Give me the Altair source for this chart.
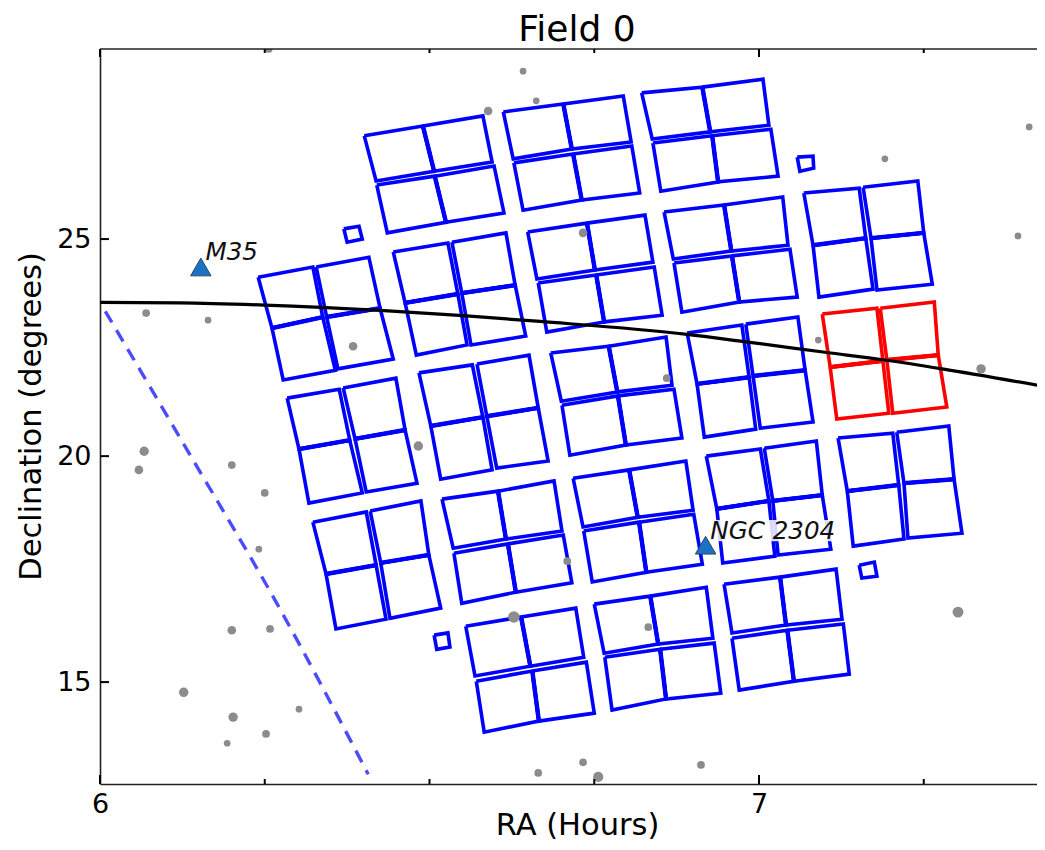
import altair as alt
import pandas as pd

# Each module: "H" = 3 columns x 4 rows of corners, "V" = 4 columns x 3 rows.
m01_ra = [6.401,6.490,6.581, 6.419,6.507,6.595, 6.420,6.508,6.598, 6.436,6.525,6.613]
m01_dec = [27.33,27.55,27.78, 26.31,26.53,26.74, 26.22,26.42,26.65, 25.14,25.38,25.59]
m02_ra = [6.240,6.323,6.328,6.408, 6.261,6.338,6.344,6.425, 6.278,6.357,6.361,6.445]
m02_dec = [24.14,24.37,24.37,24.59, 22.99,23.24,23.24,23.44, 21.82,22.04,22.07,22.29]
m03_ra = [6.445,6.528,6.534,6.616, 6.463,6.543,6.549,6.630, 6.480,6.557,6.563,6.646]
m03_dec = [24.71,24.91,24.93,25.14, 23.56,23.76,23.78,23.96, 22.38,22.61,22.61,22.81]
m04_ra = [6.612,6.703,6.794, 6.627,6.716,6.806, 6.628,6.718,6.807, 6.642,6.731,6.819]
m04_dec = [27.87,28.05,28.23, 26.81,27.03,27.19, 26.72,26.92,27.10, 25.65,25.88,26.04]
m05_ra = [6.822,6.914,7.006, 6.838,6.926,7.015, 6.839,6.929,7.018, 6.851,6.938,7.029]
m05_dec = [28.30,28.43,28.61, 27.26,27.42,27.57, 27.17,27.33,27.48, 26.08,26.29,26.42]
m06_ra = [6.649,6.739,6.827, 6.663,6.751,6.839, 6.665,6.753,6.841, 6.678,6.765,6.853]
m06_dec = [25.16,25.36,25.54, 24.10,24.30,24.48, 24.01,24.19,24.37, 22.90,23.13,23.28]
m07_ra = [6.856,6.947,7.036, 6.870,6.958,7.044, 6.871,6.959,7.047, 6.883,6.970,7.058]
m07_dec = [25.61,25.77,25.95, 24.55,24.73,24.86, 24.46,24.62,24.77, 23.35,23.58,23.69]
m08_ra = [7.068,7.152,7.158,7.241, 7.082,7.162,7.170,7.250, 7.091,7.173,7.179,7.263]
m08_dec = [26.04,26.15,26.17,26.31, 24.86,25.02,25.02,25.14, 23.69,23.87,23.85,23.98]
m09_ra = [7.096,7.179,7.184,7.266, 7.108,7.188,7.194,7.272, 7.118,7.197,7.203,7.285]
m09_dec = [23.31,23.44,23.44,23.58, 22.11,22.25,22.27,22.38, 20.94,21.07,21.07,21.21]
m10_ra = [6.284,6.363,6.369,6.449, 6.302,6.379,6.387,6.463, 6.317,6.398,6.404,6.481]
m10_dec = [21.41,21.61,21.64,21.86, 20.26,20.46,20.49,20.69, 19.04,19.27,19.29,19.49]
m11_ra = [6.484,6.565,6.572,6.651, 6.502,6.581,6.587,6.665, 6.517,6.595,6.602,6.680]
m11_dec = [21.98,22.16,22.18,22.38, 20.78,20.98,21.00,21.19, 19.58,19.79,19.83,19.99]
m12_ra = [6.323,6.404,6.410,6.487, 6.343,6.419,6.426,6.499, 6.358,6.434,6.440,6.517]
m12_dec = [18.61,18.84,18.86,19.09, 17.44,17.64,17.69,17.87, 16.20,16.42,16.44,16.67]
m13_ra = [6.519,6.604,6.689, 6.536,6.616,6.701, 6.537,6.619,6.703, 6.549,6.631,6.716]
m13_dec = [19.13,19.31,19.54, 18.02,18.23,18.41, 17.91,18.12,18.32, 16.78,17.03,17.24]
m14_ra = [6.684,6.772,6.859, 6.700,6.785,6.868, 6.701,6.786,6.871, 6.713,6.798,6.883]
m14_dec = [22.43,22.58,22.79, 21.34,21.55,21.70, 21.25,21.46,21.61, 20.12,20.35,20.51]
m15_ra = [6.891,6.974,6.980,7.059, 6.906,6.985,6.991,7.070, 6.917,6.995,7.002,7.082]
m15_dec = [22.88,23.06,23.08,23.24, 21.73,21.88,21.91,22.04, 20.53,20.71,20.73,20.87]
m16_ra = [6.718,6.803,6.889, 6.733,6.816,6.900, 6.734,6.818,6.901, 6.747,6.829,6.914]
m16_dec = [19.60,19.79,19.99, 18.50,18.72,18.88, 18.41,18.61,18.79, 17.26,17.48,17.66]
m17_ra = [6.920,7.002,7.008,7.087, 6.936,7.015,7.021,7.096, 6.945,7.024,7.029,7.109]
m17_dec = [20.10,20.26,20.28,20.44, 18.91,19.09,19.09,19.22, 17.69,17.84,17.87,18.00]
m18_ra = [7.120,7.203,7.209,7.288, 7.134,7.212,7.220,7.296, 7.143,7.220,7.226,7.308]
m18_dec = [20.51,20.62,20.64,20.78, 19.31,19.45,19.49,19.58, 18.07,18.23,18.25,18.36]
m19_ra = [6.947,7.032,7.117, 6.959,7.041,7.126, 6.959,7.043,7.128, 6.970,7.053,7.137]
m19_dec = [17.21,17.37,17.55, 16.11,16.29,16.42, 15.99,16.17,16.31, 14.82,15.02,15.18]
m20_ra = [6.555,6.639,6.722, 6.569,6.653,6.734, 6.571,6.656,6.738, 6.583,6.666,6.750]
m20_dec = [16.26,16.47,16.67, 15.14,15.36,15.56, 15.02,15.25,15.45, 13.87,14.12,14.30]
m21_ra = [6.750,6.835,6.920, 6.765,6.847,6.930, 6.766,6.850,6.932, 6.777,6.859,6.942]
m21_dec = [16.76,16.94,17.14, 15.65,15.86,15.99, 15.56,15.74,15.88, 14.37,14.62,14.75]

modules = [
    ("H", m01_ra, m01_dec), ("V", m02_ra, m02_dec), ("V", m03_ra, m03_dec),
    ("H", m04_ra, m04_dec), ("H", m05_ra, m05_dec), ("H", m06_ra, m06_dec),
    ("H", m07_ra, m07_dec), ("V", m08_ra, m08_dec), ("V", m09_ra, m09_dec),
    ("V", m10_ra, m10_dec), ("V", m11_ra, m11_dec), ("V", m12_ra, m12_dec),
    ("H", m13_ra, m13_dec), ("H", m14_ra, m14_dec), ("V", m15_ra, m15_dec),
    ("H", m16_ra, m16_dec), ("V", m17_ra, m17_dec), ("V", m18_ra, m18_dec),
    ("H", m19_ra, m19_dec), ("H", m20_ra, m20_dec), ("H", m21_ra, m21_dec),
]
target_module = 8  # index of the on-target module (m09)

fgs_ra = [[6.370,6.393,6.398,6.375], [7.058,7.082,7.083,7.062],
          [6.507,6.528,6.531,6.511], [7.152,7.175,7.179,7.156]]
fgs_dec = [[25.23,25.29,25.00,24.93], [26.85,26.87,26.60,26.53],
           [16.06,16.11,15.79,15.74], [17.64,17.71,17.39,17.35]]

star_ra = [6.256,6.642,6.662,6.589,7.191,7.410,7.429,7.393,6.733,6.070,6.164,6.384,
           7.090,7.337,6.860,6.483,6.067,6.059,6.200,6.250,6.241,6.709,7.302,6.628,
           6.200,6.258,6.832,6.127,6.202,6.302,6.252,6.193,6.665,6.733,6.756,6.912]
star_dec = [29.29,28.79,28.12,27.89,26.81,27.53,27.69,25.07,25.14,23.33,23.17,22.58,
            22.72,22.07,21.86,20.33,20.21,19.79,19.90,19.27,18.00,17.73,16.58,16.47,
            16.17,16.20,16.24,14.77,14.21,14.39,13.83,13.62,12.95,13.19,12.86,13.13]
star_mag = [6.5,7.0,7.0,6.0,7.0,7.0,6.0,7.0,6.0,6.5,7.0,6.0,
            7.0,5.5,6.5,5.5,5.5,6.0,6.5,6.5,7.0,6.5,4.5,4.0,
            6.0,6.5,6.5,5.5,5.5,7.0,6.5,7.0,6.5,6.5,5.0,6.5]

ecl_ra = [6.000,6.121,6.250,6.425,6.551,6.668,6.891,6.980,7.103,7.191,7.278,7.434]
ecl_dec = [23.57,23.56,23.51,23.39,23.27,23.14,22.85,22.68,22.44,22.27,22.07,21.67]
gal_ra = [6.008,6.137,6.269,6.407]
gal_dec = [23.37,20.12,16.76,12.92]

cluster_names = ["M35", "NGC 2304"]
cluster_ra = [6.153, 6.919]
cluster_dec = [24.37, 18.09]
label_ra = [6.160, 6.926]
label_dec = [24.53, 18.23]
box_ra = [6.924, 7.115]
box_dec = [18.18, 18.66]

x_major = [6, 7]
x_minor = [6.25, 6.5, 6.75, 7.25]
y_major = [15, 20.1, 25]   # the middle tick sits a little above 20 in the picture's linear scale

X_DOM = [6, 7.434]
Y_DOM = [12.70, 29.29]
FULL_W = 945   # length of the x scale; the page only has room for W of it
W, H = 937, 735
FONT = "DejaVu Sans"

rows = []
div_rows = []
qid = 0
did = 0
for mi, (kind, ras, decs) in enumerate(modules):
    state = "target" if mi == target_module else "other"
    ncol = 3 if kind == "H" else 4
    if kind == "H":
        quads = [(r, c) for r in (0, 2) for c in (0, 1)]
        segs = [(1, 4), (7, 10)]
    else:
        quads = [(r, c) for r in (0, 1) for c in (0, 2)]
        segs = [(4, 5), (6, 7)]
    for r, c in quads:
        ids = [r*ncol+c, r*ncol+c+1, (r+1)*ncol+c+1, (r+1)*ncol+c, r*ncol+c]
        for s, i in enumerate(ids):
            rows.append(dict(ra=ras[i], dec=decs[i], quad=qid, seq=s, state=state))
        qid += 1
    for a, b in segs:
        for s, i in enumerate((a, b)):
            div_rows.append(dict(ra=ras[i], dec=decs[i], quad=did, seq=s, state=state))
        did += 1
for ras, decs in zip(fgs_ra, fgs_dec):
    for s, i in enumerate([0, 1, 2, 3, 0]):
        rows.append(dict(ra=ras[i], dec=decs[i], quad=qid, seq=s, state="other"))
    qid += 1
quad_df = pd.DataFrame(rows)
div_df = pd.DataFrame(div_rows)

xs = alt.Scale(domain=X_DOM, range=[0, FULL_W], nice=False, zero=False)
ys = alt.Scale(domain=Y_DOM, nice=False, zero=False)
X = alt.X("ra:Q", scale=xs, title="RA (Hours)",
          axis=alt.Axis(values=x_major, format="d", grid=False, ticks=False, labelFont=FONT,
                        labelFontSize=27, labelColor="black", labelPadding=7, domainColor="#222",
                        domainWidth=1.6, titleFont=FONT, titleFontSize=30.5, titleFontWeight="normal",
                        titleColor="black", titleX=477, titleY=50, titleBaseline="alphabetic",
                        labelFlush=False))
Y = alt.Y("dec:Q", scale=ys, title="Declination (degrees)",
          axis=alt.Axis(values=y_major, format="d", grid=False, ticks=False, labelFont=FONT,
                        labelFontSize=27, labelColor="black", labelPadding=9, domainColor="#222",
                        domainWidth=1.6, titleFont=FONT, titleFontSize=30.5, titleFontWeight="normal",
                        titleColor="black", titleX=-54, titleY=367))
state_color = alt.Color("state:N", scale=alt.Scale(domain=["other", "target"], range=["#0000ff", "#ff0000"]), legend=None)

quads = alt.Chart(quad_df).mark_line(strokeWidth=3.6, strokeJoin="miter", clip=True).encode(
    x=X, y=Y, detail="quad:N", order="seq:Q", color=state_color)
dividers = alt.Chart(div_df).mark_line(strokeWidth=4.4, strokeJoin="miter", clip=True).encode(
    x=X, y=Y, detail="quad:N", order="seq:Q", color=state_color)

stars = alt.Chart(pd.DataFrame({"ra": star_ra, "dec": star_dec, "mag": star_mag})).mark_circle(
    color="#8c8c8c", opacity=1, clip=True).encode(
    x=X, y=Y, size=alt.Size("mag:Q", scale=alt.Scale(domain=[4, 7], range=[133, 45]), legend=None))

gal = alt.Chart(pd.DataFrame({"ra": gal_ra, "dec": gal_dec, "k": range(4)})).mark_line(
    color="#0000ff", opacity=0.7, strokeWidth=3.4, strokeDash=[13, 9], interpolate="monotone", clip=True).encode(
    x=X, y=Y, order="k:Q")

ecl = alt.Chart(pd.DataFrame({"ra": ecl_ra, "dec": ecl_dec, "k": range(12)})).mark_line(
    color="black", strokeWidth=3.2, interpolate="monotone", clip=True).encode(x=X, y=Y, order="k:Q")

box = alt.Chart(pd.DataFrame({"ra": [box_ra[0]], "ra2": [box_ra[1]], "dec": [box_dec[0]], "dec2": [box_dec[1]]})).mark_rect(
    color="white", opacity=0.85).encode(x=X, x2="ra2:Q", y=Y, y2="dec2:Q")

tri = alt.Chart(pd.DataFrame({"ra": cluster_ra, "dec": cluster_dec})).mark_point(
    shape="triangle-up", filled=True, size=420, fill="#1b72c4", stroke="#2b4a66", strokeWidth=1, opacity=1).encode(x=X, y=Y)

labels = alt.Chart(pd.DataFrame({"ra": label_ra, "dec": label_dec, "t": cluster_names})).mark_text(
    font=FONT, fontSize=24.6, fontStyle="italic", align="left", baseline="alphabetic", color="#111").encode(
    x=X, y=Y, text="t:N")

def xticks(vals, y0, y1):
    return alt.Chart(pd.DataFrame({"ra": vals})).mark_rule(color="black", strokeWidth=2).encode(
        x=X, y=alt.value(y0), y2=alt.value(y1))

ticks = [xticks(x_major, H, H - 9), xticks(x_minor, H, H - 5),
         xticks(x_major, 0, 8), xticks(x_minor, 0, 4),
         alt.Chart(pd.DataFrame({"dec": y_major})).mark_rule(color="black", strokeWidth=2).encode(
             y=Y, x=alt.value(0), x2=alt.value(9))]

top_spine = alt.Chart(pd.DataFrame({"a": [0]})).mark_rule(color="#222", strokeWidth=1.6).encode(
    x=alt.value(0), x2=alt.value(FULL_W), y=alt.value(0))

chart = alt.layer(quads, dividers, stars, gal, ecl, box, tri, labels, top_spine, *ticks).properties(
    width=W, height=H,
    padding={"left": 92, "top": 41, "right": 0, "bottom": 58},
    autosize=alt.AutoSizeParams(type="none"),
    title=alt.TitleParams("Field 0", font=FONT, fontSize=36, fontWeight="normal", color="black",
                          anchor="middle", offset=-1, dx=8.5),
).configure_view(stroke=None).resolve_scale(color="shared", size="independent")

chart.save("out.html", embed_options={"renderer": "svg", "actions": False})
